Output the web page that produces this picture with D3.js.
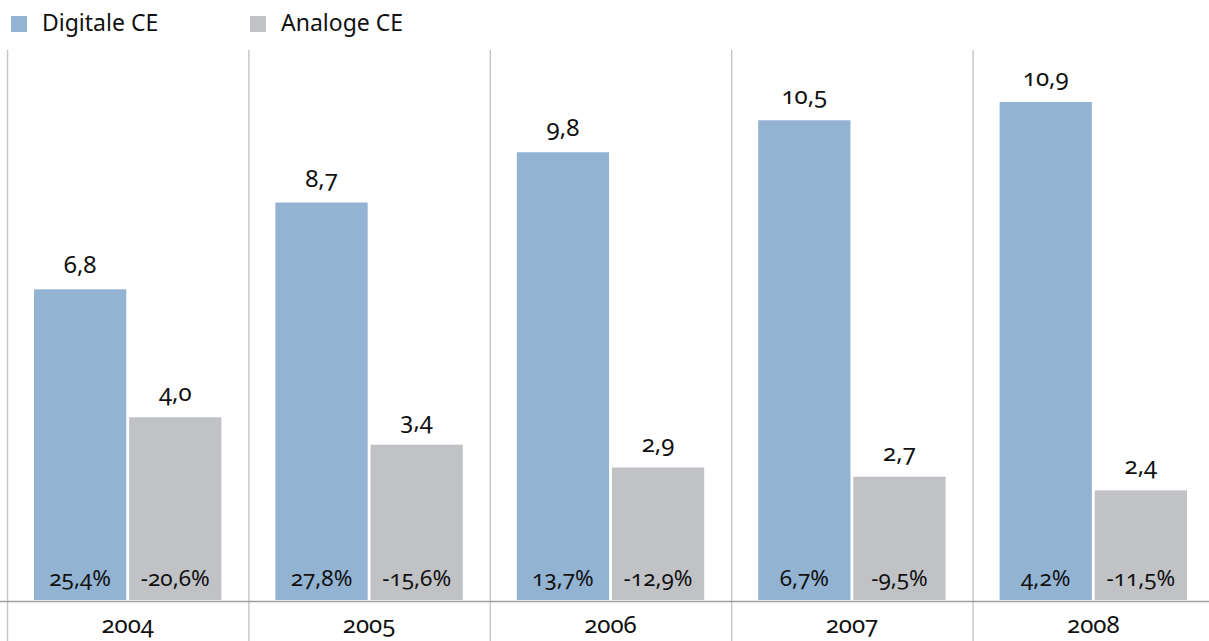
<!DOCTYPE html>
<html>
<head>
<meta charset="utf-8">
<script src="https://cdn.jsdelivr.net/npm/d3@7"></script>
<style>
  body { margin: 0; background: #fff; }
  svg text { font-family: "Noto Sans", "Open Sans", sans-serif; font-variant-numeric: oldstyle-nums; fill: #111; }
</style>
</head>
<body>
<svg id="chart"></svg>
<script>
// chart values
const years = ['2004', '2005', '2006', '2007', '2008'];
const digitale = [6.8, 8.7, 9.8, 10.5, 10.9];
const analoge = [4.0, 3.4, 2.9, 2.7, 2.4];
const digitaleGrowth = ['25,4%', '27,8%', '13,7%', '6,7%', '4,2%'];
const analogeGrowth = ['-20,6%', '-15,6%', '-12,9%', '-9,5%', '-11,5%'];
const seriesNames = ['Digitale CE', 'Analoge CE'];

const width = 1209, height = 641;
const colors = {digitale: '#93b3d3', analoge: '#c0c2c6'};
const fmt = v => d3.format('.1f')(v).replace('.', ',');

const svg = d3.select('#chart')
    .attr('width', width)
    .attr('height', height);

const baseY = 600;

// X scale for the year bands
const xScale = d3.scaleBand()
    .domain(years)
    .range([7, 1214]);

// inner scale for the two bars within a band
const xInner = d3.scaleBand()
    .domain(['digitale', 'analoge'])
    .range([27, xScale.bandwidth() - 27])
    .paddingInner(0.03);

// Y scale
const yScale = d3.scaleLinear()
    .domain([0, 10.9])
    .range([baseY, 102]);

// vertical separators
svg.append('g')
    .selectAll('line')
    .data(years)
    .join('line')
    .attr('x1', d => xScale(d) + 0.5)
    .attr('x2', d => xScale(d) + 0.5)
    .attr('y1', 50)
    .attr('y2', height)
    .attr('stroke', '#c8c8c8')
    .attr('stroke-width', 1.5);

// bottom axis line
svg.append('line')
    .attr('x1', 0)
    .attr('x2', width)
    .attr('y1', 601.5)
    .attr('y2', 601.5)
    .attr('stroke', '#a0a0a0')
    .attr('stroke-width', 1.5);

const rows = years.map((y, i) => ({
    year: y,
    bars: [
        {key: 'digitale', value: digitale[i], growth: digitaleGrowth[i]},
        {key: 'analoge', value: analoge[i], growth: analogeGrowth[i]}
    ]
}));

const groups = svg.append('g')
    .selectAll('g')
    .data(rows)
    .join('g')
    .attr('transform', d => `translate(${xScale(d.year)},0)`);

const bars = groups.selectAll('g')
    .data(d => d.bars)
    .join('g');

bars.append('rect')
    .attr('x', d => xInner(d.key))
    .attr('width', xInner.bandwidth())
    .attr('y', d => yScale(d.value))
    .attr('height', d => baseY - yScale(d.value))
    .attr('fill', d => colors[d.key]);

bars.append('text')
    .attr('x', d => xInner(d.key) + xInner.bandwidth() / 2)
    .attr('y', d => yScale(d.value) - 16)
    .attr('text-anchor', 'middle')
    .style('font-size', '24px')
    .text(d => fmt(d.value));

bars.append('text')
    .attr('x', d => xInner(d.key) + xInner.bandwidth() / 2)
    .attr('y', 586)
    .attr('text-anchor', 'middle')
    .style('font-size', '22.5px')
    .text(d => d.growth);

// year labels
svg.append('g')
    .selectAll('text')
    .data(years)
    .join('text')
    .attr('x', d => xScale(d) + xScale.bandwidth() / 2)
    .attr('y', 633)
    .attr('text-anchor', 'middle')
    .style('font-size', '24px')
    .text(d => d);

// legend
const legend = svg.append('g')
    .selectAll('g')
    .data(seriesNames)
    .join('g')
    .attr('transform', (d, i) => `translate(${i === 0 ? 11 : 250},16)`);

legend.append('rect')
    .attr('width', 16)
    .attr('height', 16)
    .attr('fill', (d, i) => i === 0 ? colors.digitale : colors.analoge);

legend.append('text')
    .attr('x', 31)
    .attr('y', 15)
    .style('font-size', '23px')
    .text(d => d);
</script>
</body>
</html>
